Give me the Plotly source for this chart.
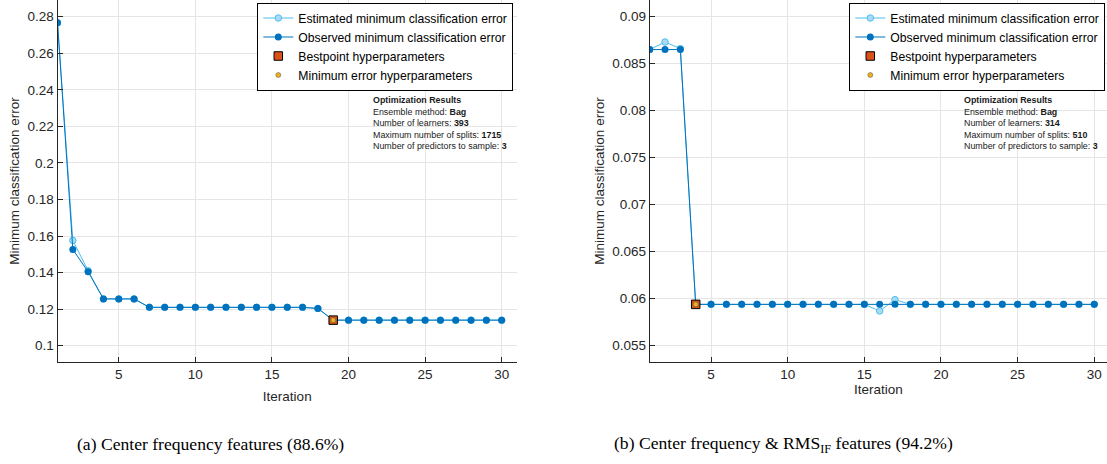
import plotly.graph_objects as go

W, H = 1107, 464

iterations = list(range(1, 31))

# Left panel (a)
obs_a = [0.2767, 0.1527, 0.1404, 0.1256, 0.1256, 0.1256] + [0.1210] * 11 + [0.1204] + [0.1140] * 12
est_a = [0.2767, 0.1576, 0.1410, 0.1256, 0.1256, 0.1256] + [0.1210] * 11 + [0.1204] + [0.1140] * 12
best_a_iter = [19]
best_a_val = [0.1140]
info_a = ["Bag", "393", "1715", "3"]

# Right panel (b)
obs_b = [0.0865, 0.0865, 0.0865] + [0.0594] * 27
est_b = [0.0865, 0.0873, 0.0866] + [0.0594] * 12 + [0.0587, 0.0599] + [0.0594] * 13
best_b_iter = [4]
best_b_val = [0.0594]
info_b = ["Bag", "314", "510", "3"]

captions = ["(a) Center frequency features (88.6%)",
            "(b) Center frequency &amp; RMS<sub>IF</sub> features (94.2%)"]

OBS = "#0072BD"
EST = "#4DBEEE"
EST_FACE = "#A8DCF5"
BEST = "#D95319"
MINC = "#EDB120"
AX = "#262626"
GRID = "#E5E5E5"
FONT = "Liberation Sans"

fig = go.Figure()

def add_panel(xa, ya, legend, obs, est, biter, bval):
    fig.add_trace(go.Scatter(x=iterations, y=est, mode="lines+markers", name="Estimated minimum classification error",
                             line=dict(color=EST, width=1),
                             marker=dict(size=6.5, color=EST_FACE, line=dict(color=EST, width=1)),
                             xaxis=xa, yaxis=ya, legend=legend))
    fig.add_trace(go.Scatter(x=iterations, y=obs, mode="lines+markers", name="Observed minimum classification error",
                             line=dict(color=OBS, width=1),
                             marker=dict(size=7, color=OBS),
                             xaxis=xa, yaxis=ya, legend=legend))
    fig.add_trace(go.Scatter(x=biter, y=bval, mode="markers", name="Bestpoint hyperparameters",
                             marker=dict(size=8.5, symbol="square", color=BEST, line=dict(color="black", width=1)),
                             xaxis=xa, yaxis=ya, legend=legend))
    fig.add_trace(go.Scatter(x=biter, y=bval, mode="markers", name="Minimum error hyperparameters",
                             marker=dict(size=5, color=MINC, line=dict(color="#555555", width=0.5)),
                             xaxis=xa, yaxis=ya, legend=legend))

add_panel("x", "y", "legend", obs_a, est_a, best_a_iter, best_a_val)
add_panel("x2", "y2", "legend2", obs_b, est_b, best_b_iter, best_b_val)

axis_common = dict(showgrid=True, gridcolor=GRID, gridwidth=1, showline=True, linecolor=AX, linewidth=1,
                   ticks="inside", ticklen=5, tickcolor=AX, tickfont=dict(family=FONT, size=13.5, color=AX),
                   zeroline=False, mirror=False)

legend_common = dict(xanchor="left", yanchor="top", bgcolor="white", bordercolor="black", borderwidth=1,
                     font=dict(family=FONT, size=12.2, color="black"), tracegroupgap=0, itemwidth=30)

fig.update_layout(
    width=W, height=H, margin=dict(l=0, r=0, t=0, b=0),
    paper_bgcolor="white", plot_bgcolor="white",
    font=dict(family=FONT, color=AX),
    xaxis=dict(domain=[57.5 / W, 517 / W], range=[1, 31], tickvals=[5, 10, 15, 20, 25, 30],
               title=dict(text="Iteration", font=dict(size=13.5, color=AX), standoff=10), anchor="y", **axis_common),
    yaxis=dict(domain=[1 - 362 / H, 1], range=[0.0911, 0.2891],
               tickvals=[0.1, 0.12, 0.14, 0.16, 0.18, 0.2, 0.22, 0.24, 0.26, 0.28],
               ticktext=["0.1", "0.12", "0.14", "0.16", "0.18", "0.2", "0.22", "0.24", "0.26", "0.28"],
               title=dict(text="Minimum classification error", font=dict(size=13.5, color=AX), standoff=4),
               anchor="x", **axis_common),
    xaxis2=dict(domain=[649.7 / W, 1], range=[1, 30.83], tickvals=[5, 10, 15, 20, 25, 30],
                title=dict(text="Iteration", font=dict(size=13.5, color=AX), standoff=1), anchor="y2", **axis_common),
    yaxis2=dict(domain=[1 - 362 / H, 1], range=[0.05327, 0.09177],
                tickvals=[0.055, 0.06, 0.065, 0.07, 0.075, 0.08, 0.085, 0.09],
                ticktext=["0.055", "0.06", "0.065", "0.07", "0.075", "0.08", "0.085", "0.09"],
                title=dict(text="Minimum classification error", font=dict(size=13.5, color=AX), standoff=4),
                anchor="x2", **axis_common),
    legend=dict(x=257.3 / W, y=1 - 2.5 / H, **legend_common),
    legend2=dict(x=849.3 / W, y=1 - 2.5 / H, **legend_common),
    showlegend=True,
)

def info_text(vals):
    return ("<b>Optimization Results</b><br>"
            f"Ensemble method: <b>{vals[0]}</b><br>"
            f"Number of learners: <b>{vals[1]}</b><br>"
            f"Maximum number of splits: <b>{vals[2]}</b><br>"
            f"Number of predictors to sample: <b>{vals[3]}</b>")

for xpx, vals in [(370.7, info_a), (962.3, info_b)]:
    fig.add_annotation(x=xpx / W, y=1 - 93 / H, xref="paper", yref="paper", xanchor="left", yanchor="top",
                       text=info_text(vals), showarrow=False, align="left",
                       font=dict(family=FONT, size=8.9, color="#1a1a1a"))

for xpx, cap in [(75, captions[0]), (611.7, captions[1])]:
    fig.add_annotation(x=xpx / W, y=1 - 444 / H, xref="paper", yref="paper", xanchor="left", yanchor="middle",
                       text=cap, showarrow=False, font=dict(family="Liberation Serif", size=17.6, color="black"))

fig.write_html("out.html")
